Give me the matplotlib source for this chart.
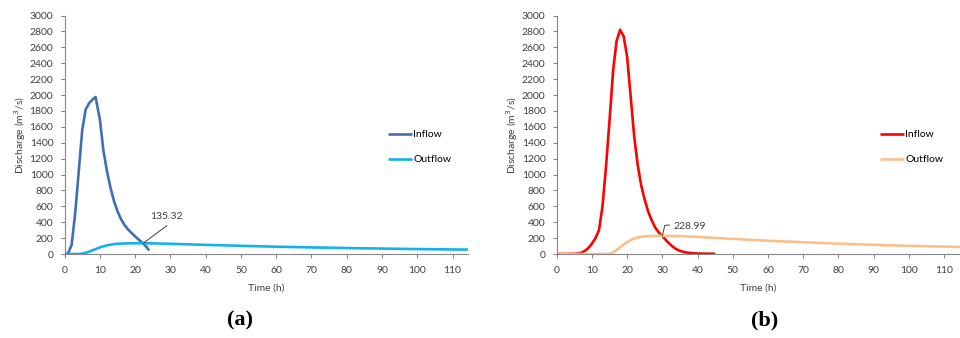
import matplotlib.pyplot as plt

# *************************************************************************
# Data

# (a) inflow / outflow hydrographs
t_in_a = [0, 1, 2, 3, 4, 5, 6, 7, 8, 8.8, 10, 11, 12, 13, 14, 15, 16, 17,
          18, 19, 20, 21, 22, 23, 24]
q_in_a = [0, 10, 110, 500, 1020, 1550, 1820, 1900, 1945, 1975, 1700, 1310,
          1050, 840, 670, 540, 440, 365, 310, 265, 222, 182, 145, 100, 45]
t_out_a = [0, 4, 5, 6, 7, 8, 9, 10, 11, 12, 13, 14, 15, 16, 18, 20, 22.3,
           25, 30, 40, 50, 60, 70, 80, 90, 100, 110, 115]
q_out_a = [0, 0, 5, 15, 30, 48, 65, 82, 97, 108, 117, 124, 128, 131, 134,
           135, 135.32, 134, 128, 115, 103, 92, 83, 75, 68, 62, 57, 55]

# (b) inflow / outflow hydrographs
t_in_b = [0, 5, 6, 7, 8, 9, 10, 11, 12, 13, 14, 15, 16, 17, 18, 19, 20, 21,
          22, 23, 24, 25, 26, 27, 28, 29, 30, 31, 32, 33, 34, 35, 36, 37, 38,
          39, 40, 42, 45]
q_in_b = [0, 3, 8, 15, 40, 75, 130, 200, 300, 600, 1100, 1680, 2300, 2680,
          2820, 2740, 2480, 1980, 1480, 1120, 860, 680, 530, 420, 330, 270,
          225, 175, 130, 90, 60, 40, 27, 18, 12, 8, 6, 4, 3]
t_out_b = [0, 14, 15, 16, 17, 18, 19, 20, 21, 22, 23, 24, 25, 26, 27, 28,
           29, 30, 32, 35, 40, 50, 60, 70, 80, 90, 100, 110, 115]
q_out_b = [0, 0, 3, 20, 50, 85, 120, 150, 175, 195, 208, 217, 222, 224,
           226.5, 228, 228.8, 228.99, 228, 225, 215, 190, 167, 148, 130, 115,
           103, 93, 88]

x_ticks = list(range(0, 111, 10))
y_ticks = list(range(0, 3001, 200))

plt.rcParams['font.family'] = ['Lato', 'DejaVu Sans']

fig = plt.figure(figsize=(9.6, 3.38), dpi=100)


# *************************************************************************
def style_axes(ax, xmax):
    ax.set_xlim(0, xmax)
    ax.set_ylim(0, 3000)
    ax.set_xticks(x_ticks)
    ax.set_yticks(y_ticks)
    for s in ['top', 'right']:
        ax.spines[s].set_visible(False)
    for s in ['left', 'bottom']:
        ax.spines[s].set_color('#868686')
        ax.spines[s].set_linewidth(0.8)
    ax.tick_params(direction='out', length=3, width=0.8, color='#868686',
                   labelsize=7.5, labelcolor='#404040')
    ax.tick_params(axis='x', pad=5.5)
    ax.tick_params(axis='y', pad=5)
    ax.set_xlabel('Time (h)', fontsize=7.5, color='#404040')
    ax.set_ylabel('Discharge (m$^3$/s)', fontsize=7.5, color='#404040')
    ax.xaxis.set_label_coords(0.5, -0.125)
    ax.yaxis.set_label_coords(-0.09, 0.5)


# (a)
ax1 = fig.add_axes([0.0672, 0.2485, 0.420, 0.7056])
ax1.plot(t_in_a, q_in_a, color='#3f6fb5', lw=1.9, label='Inflow',
         solid_capstyle='butt')
ax1.plot(t_out_a, q_out_a, color='#14b1ef', lw=1.9, label='Outflow',
         solid_capstyle='butt')
style_axes(ax1, 114.3)
ax1.plot([22.3, 29.0], [135.32, 356], color='#404040', lw=0.7)
ax1.text(29.0, 470, '135.32', fontsize=7.5, color='#404040',
         ha='center', va='center')
ax1.legend(loc='upper left', bbox_to_anchor=(388 / 960, 1 - 130 / 338),
           bbox_transform=fig.transFigure, frameon=False, borderpad=0,
           borderaxespad=0, fontsize=7.5, handlelength=2.3,
           handletextpad=0.1, labelspacing=1.5)

# (b)
ax2 = fig.add_axes([0.5799, 0.2485, 0.4201, 0.7056])
ax2.plot(t_in_b, q_in_b, color='#ff0000', lw=1.9, label='Inflow',
         solid_capstyle='butt')
ax2.plot(t_out_b, q_out_b, color='#fbbf8c', lw=1.9, label='Outflow',
         solid_capstyle='butt')
style_axes(ax2, 114.5)
ax2.plot([30.0, 30.7, 32.0], [228.99, 360, 365], color='#404040', lw=0.7)
ax2.text(33.1, 350, '228.99', fontsize=7.5, color='#404040',
         ha='left', va='center')
ax2.legend(loc='upper left', bbox_to_anchor=(880 / 960, 1 - 130 / 338),
           bbox_transform=fig.transFigure, frameon=False, borderpad=0,
           borderaxespad=0, fontsize=7.5, handlelength=2.3,
           handletextpad=0.1, labelspacing=1.5)

# Panel letters
fig.text(240 / 960, 0.051, '(a)', fontsize=16, fontweight='bold',
         family='Liberation Serif', ha='center', va='center')
fig.text(765 / 960, 0.051, '(b)', fontsize=16, fontweight='bold',
         family='Liberation Serif', ha='center', va='center')

fig.savefig('out.png', dpi=100)
